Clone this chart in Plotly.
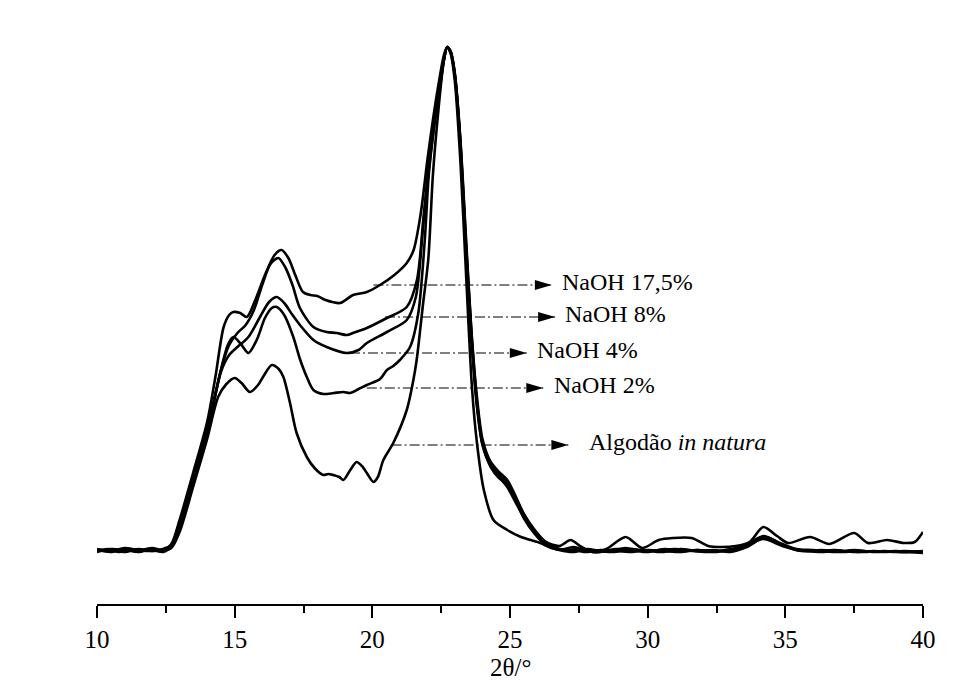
import plotly.graph_objects as go

# ---------------- data (2θ in degrees, intensity in a.u.) ----------------
x_175 = [10.0, 10.4, 10.8, 11.2, 11.6, 12.0, 12.4, 12.7, 13.0, 13.5, 14.0, 14.3, 14.6, 14.8, 14.95,
         15.2, 15.44, 15.75, 16.1, 16.45, 16.7, 16.95, 17.2, 17.48, 17.75, 18.0, 18.3, 18.83, 19.3,
         19.8, 20.28, 20.8, 21.25, 21.5, 21.75, 22.0, 22.2, 22.4, 22.6, 22.72, 22.85, 23.0, 23.2,
         23.4, 23.6, 23.8, 24.0, 24.3, 24.6, 24.9, 25.2, 25.5, 25.9, 26.3, 26.8, 27.2, 27.6, 28.0,
         28.5, 29.2, 29.8, 30.4, 30.9, 31.6, 32.2, 32.7, 33.2, 33.7, 34.2, 34.7, 35.1, 35.9, 36.6,
         37.5, 38.0, 38.7, 39.3, 39.7, 40.0]
y_175 = [51, 53, 50, 53, 52, 54, 52, 58, 82, 130, 180, 225, 275, 287, 290,
         289, 285, 302, 327, 347, 352, 344, 327, 310, 307, 306, 302, 299, 307,
         310, 317, 327, 339, 352, 387, 442, 482, 517, 547, 555, 550, 527, 462,
         365, 270, 200, 160, 138, 125, 115, 100, 85, 70, 60, 56, 62, 55, 50,
         53, 65, 54, 62, 64, 64, 56, 55, 56, 60, 75, 66, 59, 65, 58,
         69, 59, 62, 59, 60, 70]

x_8 = [10.0, 10.5, 11.0, 11.5, 12.0, 12.4, 12.7, 13.0, 13.5, 14.0, 14.5, 14.8, 15.1, 15.4, 15.7,
       16.0, 16.3, 16.585, 16.85, 17.1, 17.37, 17.86, 18.34, 18.7, 19.07, 19.3, 19.8, 20.53, 21.25,
       21.62, 21.85, 22.05, 22.25, 22.45, 22.6, 22.72, 22.85, 23.0, 23.2, 23.4, 23.6, 23.8, 24.0,
       24.3, 24.6, 24.9, 25.2, 25.5, 25.9, 26.3, 26.8, 27.3, 27.8, 28.3, 28.8, 29.4, 30.0, 30.6,
       31.2, 31.8, 32.4, 33.0, 33.6, 34.2, 34.8, 35.4, 36.0, 36.8, 37.5, 38.2, 39.0, 40.0]
y_8 = [53, 51, 54, 52, 51, 53, 57, 78, 124, 172, 232, 257, 269, 277, 292,
       317, 338, 344, 334, 317, 294, 275, 270, 269, 267, 269, 274, 284, 295,
       322, 382, 437, 482, 517, 544, 555, 549, 525, 455, 350, 262, 195, 157,
       135, 124, 118, 104, 88, 70, 58, 52, 55, 51, 50, 53, 52, 50, 53,
       51, 52, 50, 52, 56, 64, 58, 52, 51, 52, 50, 51, 50, 50]

x_4 = [10.0, 10.5, 11.0, 11.5, 12.0, 12.4, 12.7, 13.0, 13.5, 14.0, 14.5, 14.8, 15.1, 15.5, 15.9,
       16.25, 16.53, 16.8, 17.1, 17.37, 17.86, 18.34, 19.07, 19.5, 19.8, 20.53, 21.25, 21.58, 21.85,
       22.05, 22.25, 22.45, 22.6, 22.72, 22.85, 23.0, 23.2, 23.4, 23.6, 23.8, 24.0, 24.3, 24.6,
       24.9, 25.2, 25.5, 25.9, 26.3, 26.8, 27.3, 27.8, 28.3, 28.8, 29.4, 30.0, 30.6, 31.2, 31.8,
       32.4, 33.0, 33.6, 34.3, 34.9, 35.5, 36.2, 37.0, 37.8, 38.6, 39.3, 40.0]
y_4 = [50, 53, 52, 50, 53, 51, 55, 74, 120, 168, 230, 247, 255, 265, 284,
       300, 305, 299, 287, 277, 262, 255, 249, 252, 259, 270, 282, 305, 377,
       432, 477, 514, 542, 555, 550, 526, 458, 355, 265, 198, 158, 137, 128,
       120, 102, 84, 68, 57, 52, 50, 53, 51, 50, 53, 51, 50, 53, 51,
       52, 50, 55, 65, 57, 52, 50, 51, 50, 51, 50, 51]

x_2 = [10.0, 10.5, 11.0, 11.5, 12.0, 12.4, 12.7, 13.0, 13.5, 14.0, 14.5, 14.75, 14.95, 15.2, 15.5,
       15.8, 16.1, 16.35, 16.53, 16.8, 17.13, 17.37, 17.62, 17.86, 18.22, 18.6, 18.95, 19.19, 19.5,
       19.8, 20.28, 20.53, 20.76, 21.0, 21.37, 21.67, 21.9, 22.05, 22.25, 22.45, 22.6, 22.72, 22.85,
       23.0, 23.2, 23.4, 23.6, 23.8, 24.0, 24.3, 24.6, 24.9, 25.2, 25.5, 25.9, 26.3, 26.8, 27.3,
       27.8, 28.3, 28.8, 29.4, 30.0, 30.6, 31.2, 31.8, 32.4, 33.0, 33.6, 34.2, 34.8, 35.4, 36.0,
       36.8, 37.5, 38.2, 39.0, 40.0]
y_2 = [52, 50, 53, 51, 52, 50, 56, 76, 122, 170, 232, 257, 265, 259, 249,
       262, 284, 294, 295, 287, 265, 243, 225, 212, 208, 209, 210, 209, 213,
       217, 223, 232, 236, 242, 255, 289, 360, 427, 477, 514, 542, 555, 550,
       528, 460, 360, 270, 205, 163, 140, 130, 122, 106, 88, 72, 60, 53, 52,
       50, 52, 51, 50, 52, 51, 50, 52, 51, 52, 57, 66, 59, 53, 52,
       50, 52, 50, 51, 49]

x_nat = [10.0, 10.5, 11.0, 11.5, 12.0, 12.4, 12.7, 13.0, 13.5, 14.0, 14.4, 14.7, 15.0, 15.25, 15.55,
         15.85, 16.05, 16.35, 16.6, 16.77, 17.01, 17.25, 17.62, 17.9, 18.22, 18.4, 18.58, 18.8, 18.95,
         19.2, 19.43, 19.65, 19.8, 20.04, 20.2, 20.4, 20.76, 21.25, 21.49, 21.61, 21.85, 22.03, 22.2,
         22.4, 22.6, 22.72, 22.85, 23.0, 23.2, 23.4, 23.62, 23.8, 24.05, 24.4, 24.9, 25.4, 26.1,
         26.5, 27.0, 27.5, 28.0, 28.6, 29.2, 29.8, 30.4, 31.0, 31.6, 32.2, 32.8, 33.4, 34.2, 34.9,
         35.6, 36.3, 37.0, 37.8, 38.6, 39.3, 40.0]
y_nat = [51, 52, 50, 53, 51, 52, 54, 70, 116, 163, 205, 218, 224, 219, 210,
         217, 226, 237, 233, 225, 199, 169, 145, 134, 127, 128, 127, 125, 122,
         132, 140, 135, 129, 120, 125, 142, 159, 192, 222, 242, 300, 342, 427,
         492, 542, 555, 548, 520, 440, 330, 214, 159, 112, 82, 72, 65, 59,
         54, 52, 53, 50, 51, 54, 51, 52, 53, 51, 50, 52, 55, 63, 56,
         51, 52, 50, 51, 50, 51, 50]

# labels: text, line level (a.u.), line start (2θ), arrow tip (2θ), text start (2θ)
labels = ["NaOH 17,5%", "NaOH 8%", "NaOH 4%", "NaOH 2%", "Algodão <i>in natura</i>"]
label_level = [317, 285, 249, 214, 157]
label_start = [20.04, 20.46, 19.19, 19.80, 20.70]
label_tip = [26.52, 26.64, 25.61, 26.21, 27.12]
label_text_x = [26.82, 26.92, 25.92, 26.52, 27.78]

x_ticks = [10, 15, 20, 25, 30, 35, 40]
x_title = "2θ/°"

series = [(x_175, y_175, "NaOH 17,5%"), (x_8, y_8, "NaOH 8%"), (x_4, y_4, "NaOH 4%"),
          (x_2, y_2, "NaOH 2%"), (x_nat, y_nat, "Algodão in natura")]

FONT = "Liberation Serif, Times New Roman, serif"

fig = go.Figure()
for xs, ys, name in series:
    fig.add_trace(go.Scatter(x=xs, y=ys, mode="lines", name=name,
                             line=dict(color="black", width=2.6, shape="spline", smoothing=0.8),
                             showlegend=False, hoverinfo="skip"))

shapes = []
annotations = []
for txt, lev, xs0, xt, xtx in zip(labels, label_level, label_start, label_tip, label_text_x):
    shapes.append(dict(type="line", xref="x", yref="y", x0=xs0, x1=xt, y0=lev, y1=lev,
                       line=dict(color="black", width=1, dash="10px,3px,2px,3px")))
    shapes.append(dict(type="path", xref="x", yref="y", xsizemode="pixel", ysizemode="pixel",
                       xanchor=xt, yanchor=lev, path="M-17,-5 L0,0 L-17,5 Z",
                       fillcolor="black", line=dict(width=0)))
    annotations.append(dict(x=xtx, y=lev, xref="x", yref="y", text=txt, showarrow=False,
                            xanchor="left", yanchor="middle", yshift=3,
                            font=dict(family=FONT, size=24, color="black")))

# axis title as a paper annotation (placed just below the tick labels)
annotations.append(dict(x=0.5, y=-0.109, xref="paper", yref="paper", text=x_title,
                        showarrow=False, xanchor="center", yanchor="middle",
                        font=dict(family=FONT, size=25, color="black")))

fig.update_layout(
    width=971, height=690,
    margin=dict(l=97, r=48, t=20, b=86),
    paper_bgcolor="white", plot_bgcolor="white",
    shapes=shapes, annotations=annotations,
    xaxis=dict(range=[10, 40], tickvals=x_ticks, ticktext=[str(t) for t in x_ticks],
               showgrid=False, zeroline=False, showline=True, linecolor="black", linewidth=1.6,
               ticks="outside", ticklen=12, tickwidth=1.6, tickcolor="black",
               minor=dict(ticks="outside", ticklen=7, tickwidth=1.6, tickcolor="black", dtick=2.5,
                          tick0=10, showgrid=False),
               tickfont=dict(family=FONT, size=25, color="black")),
    yaxis=dict(range=[-2, 582], visible=False, showgrid=False, zeroline=False),
)

fig.write_html("out.html")
